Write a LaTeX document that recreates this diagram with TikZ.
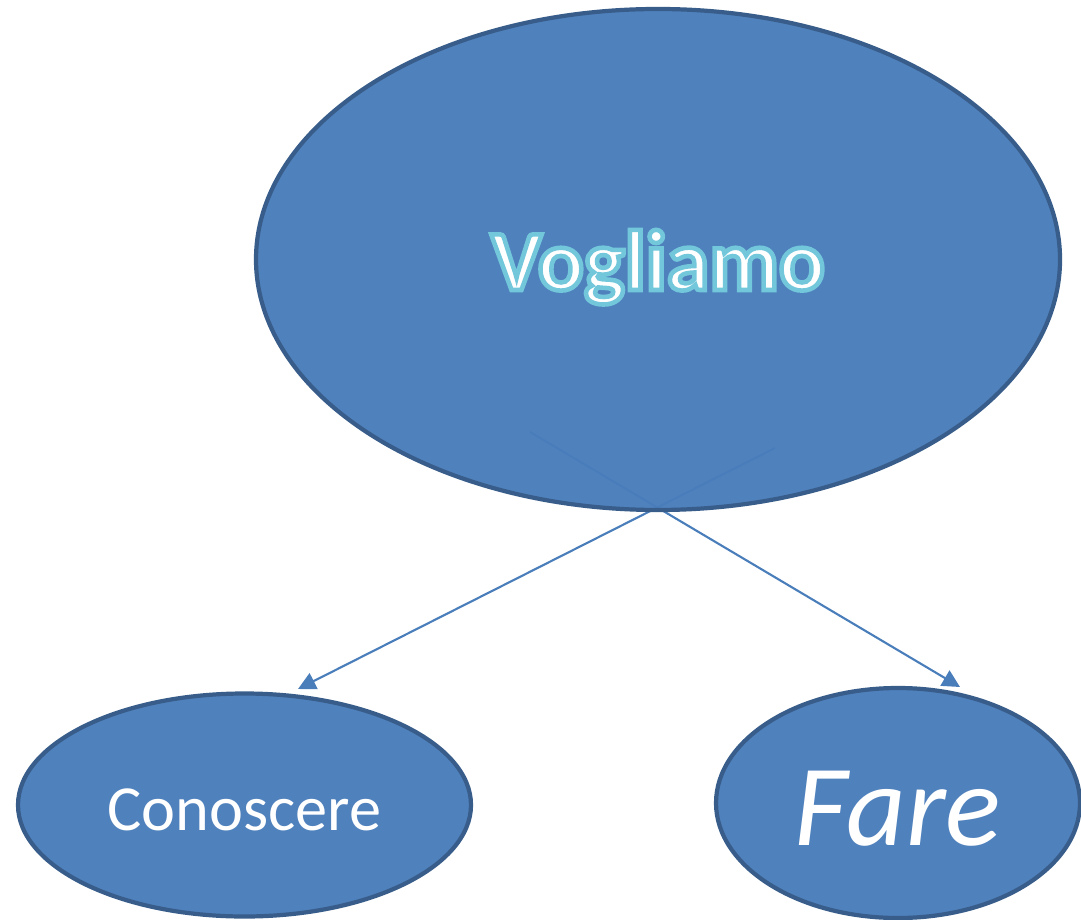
\documentclass[tikz,border=0pt]{standalone}
\usepackage{fontspec}
\setmainfont{Carlito}
\usetikzlibrary{shapes.geometric,arrows.meta,backgrounds}
\definecolor{officeblue}{RGB}{72,124,186}
\definecolor{officeline}{RGB}{56,93,138}
\definecolor{arrowblue}{RGB}{74,126,187}
% white letters with a thin aqua outline
\newcommand{\glowtext}[1]{\special{pdf:literal direct 2 Tr 1.3 w 0.45 0.78 0.86 RG}#1\special{pdf:literal direct 0 Tr}}
\tikzset{
  bubble/.style={shape=ellipse,draw=officeline,fill=officeblue,line width=1.2pt,
    inner sep=0pt,text=white,fill opacity=0.96,text opacity=1},
  link/.style={arrowblue,-{Triangle[length=5pt,width=5pt]},line width=0.6pt}
}
\begin{document}
\begin{tikzpicture}
\useasboundingbox (0,0) rectangle (10.81,-9.19);
\node[bubble,minimum width=8.04cm,minimum height=5.01cm,text height=0.78cm,text depth=0.17cm] (vogliamo) at (6.58,-2.595)
  {\fontsize{24.4}{29}\selectfont\bfseries\glowtext{Vogliamo}};
\node[bubble,minimum width=4.53cm,minimum height=2.23cm,text height=0.5cm,text depth=0cm] (conoscere) at (2.445,-8.05)
  {\fontsize{18.3}{22}\selectfont Conoscere};
\node[bubble,minimum width=3.64cm,minimum height=2.30cm,text height=0.84cm,text depth=0cm] (fare) at (8.98,-8.03)
  {\fontsize{33}{38}\selectfont\itshape Fare};
\coordinate (fromL) at (7.75,-4.48);
\coordinate (toL) at (2.98,-6.89);
\coordinate (fromR) at (5.30,-4.32);
\coordinate (toR) at (9.60,-6.87);
\begin{scope}[on background layer]
\draw [link] (fromL) -- (toL);
\draw [link] (fromR) -- (toR);
\end{scope}
\end{tikzpicture}
\end{document}
